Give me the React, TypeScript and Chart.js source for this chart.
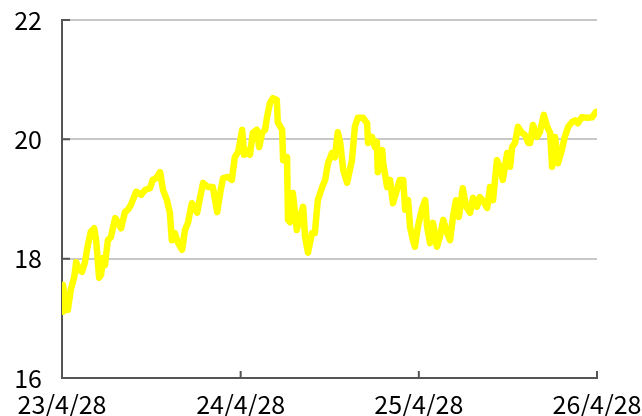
import React, { useEffect, useRef } from "react";
import { Chart, registerables } from "chart.js";

Chart.register(...registerables);

// days since 23/4/28
const days: number[] = [
  0, 2, 6, 12, 18, 25, 29, 35, 41, 47, 53, 59, 66, 70, 76, 80, 84, 88, 94, 100,
  109, 115, 121, 129, 135, 141, 152, 162, 170, 180, 186, 193, 201, 207, 215, 221, 225, 231, 238, 246,
  252, 258, 266, 277, 283, 289, 299, 309, 318, 324, 330, 340, 348, 354, 361, 369, 373, 381, 385, 391,
  399, 404, 410, 416, 420, 426, 432, 440, 442, 451, 453, 461, 463, 467, 473, 481, 488, 494, 498, 504,
  512, 518, 524, 533, 539, 545, 553, 559, 565, 570, 576, 584, 594, 600, 606, 617, 625, 627, 635, 641,
  645, 647, 656, 658, 666, 672, 678, 686, 692, 699, 703, 709, 713, 719, 723, 729, 737, 744, 748, 754,
  760, 768, 774, 781, 789, 795, 801, 807, 813, 821, 828, 836, 842, 850, 856, 862, 871, 877, 883, 891,
  897, 903, 912, 918, 922, 928, 934, 942, 949, 955, 959, 965, 973, 979, 987, 994, 1000, 1004, 1010, 1016,
  1024, 1030, 1037, 1045, 1051, 1057, 1065, 1076, 1086, 1094,
];

const values: number[] = [
  17.11, 17.56, 17.31, 17.14, 17.48, 17.69, 17.94, 17.81, 17.78, 17.94, 18.23, 18.45, 18.51, 18.31, 17.68, 17.73, 18.01, 17.89, 18.31, 18.36,
  18.68, 18.61, 18.51, 18.78, 18.82, 18.9, 19.12, 19.07, 19.15, 19.18, 19.32, 19.35, 19.45, 19.15, 18.98, 18.77, 18.31, 18.43, 18.26, 18.15,
  18.48, 18.6, 18.93, 18.77, 19.03, 19.27, 19.2, 19.2, 18.78, 19.1, 19.35, 19.37, 19.32, 19.7, 19.79, 20.16, 19.74, 19.82, 19.74, 20.11,
  20.16, 19.87, 20.11, 20.16, 20.37, 20.61, 20.69, 20.66, 20.29, 20.16, 19.65, 19.7, 18.65, 18.61, 19.1, 18.48, 18.7, 18.87, 18.36, 18.1,
  18.43, 18.43, 18.98, 19.2, 19.32, 19.6, 19.77, 19.7, 20.12, 19.94, 19.49, 19.27, 19.65, 20.21, 20.36, 20.36, 20.27, 19.94, 20.04, 19.87,
  19.96, 19.45, 19.82, 19.6, 19.2, 19.32, 18.93, 19.15, 19.32, 19.32, 18.82, 18.98, 18.53, 18.31, 18.2, 18.53, 18.82, 18.98, 18.53, 18.26,
  18.6, 18.2, 18.36, 18.65, 18.43, 18.31, 18.7, 18.98, 18.7, 19.18, 18.87, 18.77, 19.02, 18.87, 19.03, 18.98, 18.85, 19.2, 18.98, 19.65,
  19.54, 19.32, 19.77, 19.54, 19.87, 19.94, 20.21, 20.11, 20.07, 19.94, 19.94, 20.24, 20.04, 20.12, 20.41, 20.21, 20.11, 19.54, 20.04, 19.6,
  19.82, 20.04, 20.21, 20.29, 20.32, 20.27, 20.37, 20.36, 20.37, 20.46,
];

const tickDays: number[] = [0, 366, 731, 1096];
const tickLabels: string[] = ["23/4/28", "24/4/28", "25/4/28", "26/4/28"];
const yTicks: number[] = [16, 18, 20, 22];

const FONT = '"Noto Sans CJK JP", "Noto Sans", sans-serif';

const innerTicks = {
  id: "innerTicks",
  afterDatasetsDraw(chart: any) {
    const ctx = chart.ctx;
    const x = chart.scales.x;
    const y = chart.scales.y;
    ctx.save();
    ctx.strokeStyle = "#555555";
    ctx.lineWidth = 2;
    ctx.beginPath();
    yTicks.forEach((v) => {
      const py = y.getPixelForValue(v);
      ctx.moveTo(x.left, py);
      ctx.lineTo(x.left + 8, py);
    });
    tickDays.forEach((d) => {
      const px = x.getPixelForValue(d);
      ctx.moveTo(px, y.bottom);
      ctx.lineTo(px, y.bottom - 7);
    });
    ctx.stroke();
    ctx.restore();
  },
};

export default function App() {
  const ref = useRef<HTMLCanvasElement | null>(null);
  useEffect(() => {
    if (!ref.current) return;
    const chart = new Chart(ref.current, {
      type: "line",
      data: {
        datasets: [
          {
            data: days.map((d, i) => ({ x: d, y: values[i] })),
            borderColor: "#ffff00",
            borderWidth: 6.5,
            pointRadius: 0,
            tension: 0,
            borderJoinStyle: "round",
            borderCapStyle: "round",
          },
        ],
      },
      options: {
        animation: false,
        responsive: true,
        maintainAspectRatio: false,
        layout: { padding: { top: 20, right: 45, left: 0, bottom: 0 } },
        plugins: { legend: { display: false }, tooltip: { enabled: false } },
        scales: {
          x: {
            type: "linear",
            min: 0,
            max: 1096,
            afterBuildTicks: (scale: any) => {
              scale.ticks = tickDays.map((v) => ({ value: v }));
            },
            afterFit: (scale: any) => {
              scale.height = 38;
              scale.paddingLeft = 0;
              scale.paddingRight = 0;
            },
            grid: { display: false, drawTicks: false },
            border: { display: true, color: "#555555", width: 2 },
            ticks: {
              autoSkip: false,
              maxRotation: 0,
              padding: 11,
              color: "#000000",
              font: { family: FONT, size: 25 },
              callback: (_v: any, i: number) => tickLabels[i],
            },
          },
          y: {
            min: 16,
            max: 22,
            afterBuildTicks: (scale: any) => {
              scale.ticks = yTicks.map((v) => ({ value: v }));
            },
            afterFit: (scale: any) => {
              scale.width = 62;
              scale.paddingTop = 0;
              scale.paddingBottom = 0;
            },
            grid: { color: "#c8c8c8", lineWidth: 2, drawTicks: false },
            border: { display: true, color: "#555555", width: 2 },
            ticks: {
              padding: 20,
              color: "#000000",
              font: { family: FONT, size: 25 },
            },
          },
        },
      },
      plugins: [innerTicks],
    } as any);
    return () => chart.destroy();
  }, []);
  return (
    <div style={{ position: "absolute", left: 0, top: 0, width: 642, height: 416 }}>
      <canvas ref={ref} />
    </div>
  );
}
